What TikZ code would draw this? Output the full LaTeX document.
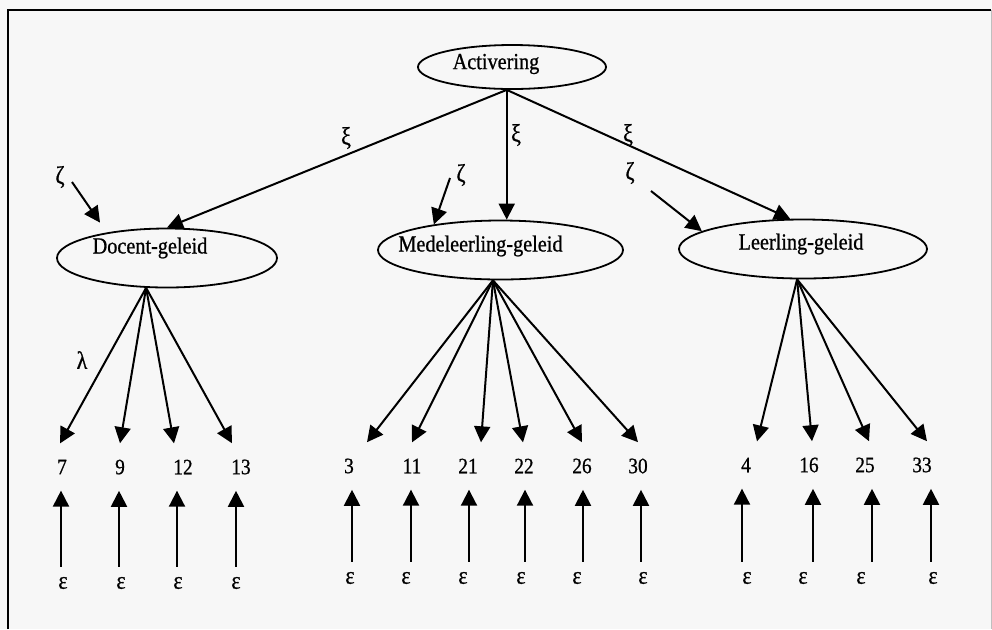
\documentclass[tikz,border=0pt]{standalone}
\usepackage{fontspec}
\setmainfont{Liberation Serif}[FakeStretch=0.88,FakeBold=0.8]
\usetikzlibrary{arrows.meta,shapes.geometric}

\tikzset{
  factor/.style={draw,ellipse,line width=0.9pt,inner sep=0pt},
  lab/.style={inner sep=0pt,font=\fontsize{11.5}{13}\selectfont},
  item/.style={inner xsep=1pt,inner ysep=8pt,font=\fontsize{11}{12}\selectfont},
  greek/.style={inner sep=1pt,font=\fontsize{12.5}{14}\selectfont},
  eps/.style={greek,inner ysep=5pt},
  pad/.style={line width=1pt,-{Triangle[length=8pt,width=8pt]}},
}

\begin{document}
\begin{tikzpicture}[x=0.5pt,y=-0.5pt]
\fill[gray!6] (0,0) rectangle (992,629);
\useasboundingbox (0,0) rectangle (992,629);
\draw[line width=1pt] (8,629) -- (8,10) -- (991,10);
\draw[gray!50] (991,10) -- (991,629);

\node[factor,minimum width=94pt,minimum height=22pt,
  label={[lab,xshift=-8pt,yshift=1.5pt]center:Activering}] (act) at (512,67) {};
\node[factor,minimum width=110pt,minimum height=29.5pt,
  label={[lab,xshift=-8.5pt,yshift=5pt]center:Docent-geleid}] (doc) at (167,258) {};
\node[factor,minimum width=122.5pt,minimum height=29.5pt,
  label={[lab,xshift=-10pt,yshift=2pt]center:Medeleerling-geleid}] (med) at (500.5,250) {};
\node[factor,minimum width=124pt,minimum height=29.5pt,
  label={[lab,xshift=-1pt,yshift=2.5pt]center:Leerling-geleid}] (lee) at (803,249) {};

\node[greek] (xi1) at (346,138) {ξ};
\node[greek] (xi2) at (516,135) {ξ};
\node[greek] (xi3) at (628,135) {ξ};
\node[greek] (zeta1) at (60,177) {ζ};
\node[greek] (zeta2) at (461,175) {ζ};
\node[greek] (zeta3) at (630,173) {ζ};
\node[greek] (lambda) at (82,360) {λ};

\draw[pad] (act.-103) -- (doc.north);
\draw[pad] (act.-103) -- (act.-103 |- med.north);
\draw[pad] (act.-103) -- (lee.113);

\coordinate (zdoc) at (72,182);
\coordinate (zmed) at (450,178);
\coordinate (zlee) at (651,191);
\draw[pad,shorten >=6pt] (zdoc) -- (doc.157);
\draw[pad] (zmed) -- (med.159);
\draw[pad] (zlee) -- (lee.170);

\foreach \n/\nx/\tx/\ax/\ex in {7/62/60/61/63,9/120/120/119/121,12/183/174/177/178,13/241/232/236/236}{
  \node[item] (v\n) at (\nx,467) {\n};
  \node[eps] (e\n) at (\ex,583) {ε};
  \draw[pad] (doc.-125) -- (\tx,0 |- v\n.north);
  \draw[pad] (\ax,0 |- e\n.north) -- (\ax,0 |- v\n.south);
}
\foreach \n/\nx/\tx/\ax/\ex in {3/349/367/352/350,11/412/412/411/406,21/468/481/469/463,22/524/523/525/521,26/582/582/583/577,30/638/638/641/643}{
  \node[item] (v\n) at (\nx,466) {\n};
  \node[eps] (e\n) at (\ex,578) {ε};
  \draw[pad] (med.-104) -- (\tx,0 |- v\n.north);
  \draw[pad] (\ax,0 |- e\n.north) -- (\ax,0 |- v\n.south);
}
\foreach \n/\nx/\tx/\ax/\ex in {4/746/757/742/747,16/809/812/813/803,25/865/869/872/861,33/922/927/931/933}{
  \node[item] (v\n) at (\nx,465) {\n};
  \node[eps] (e\n) at (\ex,578) {ε};
  \draw[pad] (lee.-101) -- (\tx,0 |- v\n.north);
  \draw[pad] (\ax,0 |- e\n.north) -- (\ax,0 |- v\n.south);
}
\end{tikzpicture}
\end{document}
